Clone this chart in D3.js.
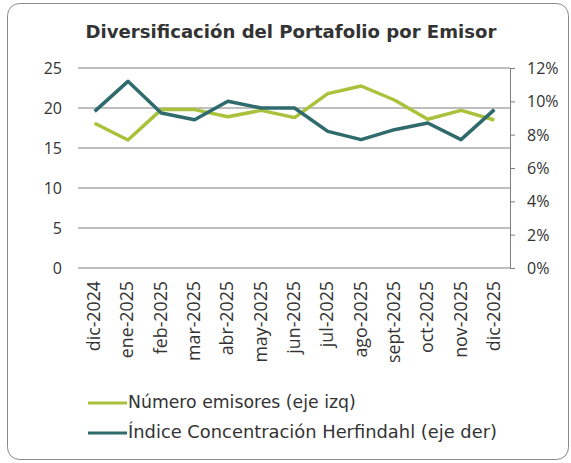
<!DOCTYPE html>
<html><head><meta charset="utf-8">
<script src="https://cdn.jsdelivr.net/npm/d3@7"></script>
<style>body{margin:0;background:#fff}svg{display:block}</style>
</head><body>
<svg id="c" width="571" height="463"></svg>
<script>
const months = ["dic-2024","ene-2025","feb-2025","mar-2025","abr-2025","may-2025","jun-2025","jul-2025","ago-2025","sept-2025","oct-2025","nov-2025","dic-2025"];
const emisores = [18.1,16.0,19.8,19.8,18.9,19.7,18.8,21.8,22.75,21.0,18.6,19.7,18.5];
const herfindahl = [0.094,0.112,0.093,0.089,0.100,0.096,0.096,0.082,0.077,0.083,0.087,0.077,0.095];
const leftTicks = [0,5,10,15,20,25];
const rightTicks = [0,0.02,0.04,0.06,0.08,0.10,0.12];
const title = "Diversificación del Portafolio por Emisor";
const legendNames = ["Número emisores (eje izq)","Índice Concentración Herfindahl (eje der)"];
const colors = ["#a9c23c","#2f6a6c"];

const svg = d3.select("#c");
function fit(sel, w){ const n=sel.node(); const l=n.getComputedTextLength(); const fs=parseFloat(sel.attr("font-size")); sel.attr("font-size", (fs*w/l).toFixed(2)); }

svg.append("rect").attr("x",7.5).attr("y",3.5).attr("width",561).attr("height",456).attr("rx",12)
  .attr("fill","#fff").attr("stroke","#8a8a8a").attr("stroke-width",1);

const L=78, R=511, T=68, B=268;
const x = d3.scalePoint().domain(months).range([L,R]).padding(0.5);
const yL = d3.scaleLinear().domain([0,25]).range([B,T]);
const yR = d3.scaleLinear().domain([0,0.12]).range([B,T]);

// gridlines
svg.append("g").selectAll("line").data(leftTicks).join("line")
  .attr("x1",L).attr("x2",R-1).attr("y1",d=>yL(d)).attr("y2",d=>yL(d))
  .attr("stroke","#7f7f7f").attr("stroke-width",1);

// left axis labels
svg.append("g").selectAll("text").data(leftTicks).join("text")
  .attr("x",62).attr("y",d=>yL(d)+5.5).attr("text-anchor","end")
  .attr("font-family","Open Sans").attr("font-size",16).attr("fill","#333").text(d=>d);

// right axis
const ra = svg.append("g").attr("transform",`translate(${R-1},0)`)
  .call(d3.axisRight(yR).tickValues(rightTicks).tickFormat(d3.format(".0%")).tickSize(5).tickPadding(12));
ra.select(".domain").attr("stroke","#7f7f7f");
ra.selectAll(".tick line").attr("stroke","#7f7f7f");
ra.selectAll("text").attr("font-family","Open Sans").attr("font-size",16).attr("fill","#333").attr("dy","0.35em");

// x labels
const xl = svg.append("g").selectAll("text").data(months).join("text")
  .attr("transform",d=>`translate(${x(d)+5.5},281) rotate(-90)`).attr("text-anchor","end")
  .attr("font-family","Open Sans").attr("font-size",16).attr("fill","#333").text(d=>d);
const sept = xl.filter(d=>d==="sept-2025");
const sl = sept.node().getComputedTextLength();
xl.attr("font-size",(16*82/sl).toFixed(2));

// lines
const lineL = d3.line().x((d,i)=>x(months[i])).y(d=>yL(d));
const lineR = d3.line().x((d,i)=>x(months[i])).y(d=>yR(d));
svg.append("path").datum(emisores).attr("d",lineL).attr("fill","none").attr("stroke",colors[0]).attr("stroke-width",3.5).attr("stroke-linejoin","round");
svg.append("path").datum(herfindahl).attr("d",lineR).attr("fill","none").attr("stroke",colors[1]).attr("stroke-width",3.5).attr("stroke-linejoin","round");

// title
const t = svg.append("text").attr("x",291).attr("y",38).attr("text-anchor","middle")
  .attr("font-family","DejaVu Sans").attr("font-weight","bold").attr("font-size",17).attr("fill","#333").text(title);
fit(t,411);

// legend
const lg = svg.append("g");
const ly=[403,433];
legendNames.forEach((n,i)=>{
  lg.append("line").attr("x1",88).attr("x2",127).attr("y1",ly[i]).attr("y2",ly[i]).attr("stroke",colors[i]).attr("stroke-width",3);
  const tt = lg.append("text").attr("x",128).attr("y",ly[i]+5).attr("font-family","DejaVu Sans").attr("font-size",14).attr("fill","#333").text(n);
  if(i==1) fit(tt,369);
  else fit(tt,228);
});
</script>
</body></html>
